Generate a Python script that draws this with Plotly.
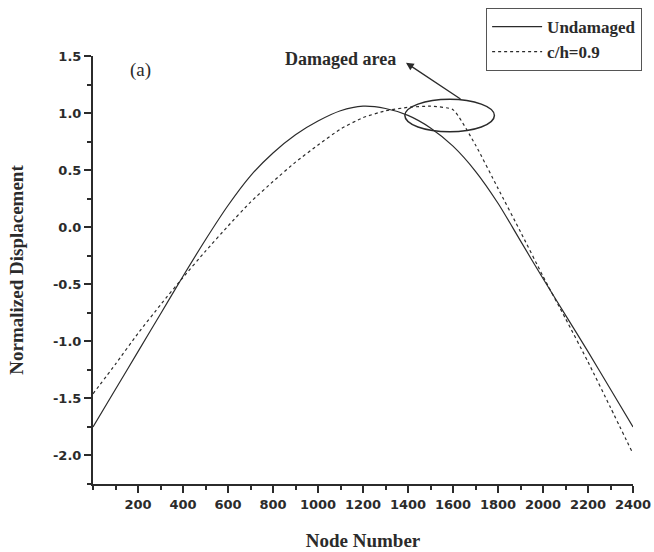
import plotly.graph_objects as go

# ---- data ----
node_number = [0, 100, 200, 300, 400, 500, 600, 700, 800, 900, 1000, 1100, 1200,
               1300, 1400, 1500, 1600, 1700, 1800, 1900, 2000, 2100, 2200, 2300, 2400]
undamaged = [-1.75, -1.42, -1.09, -0.76, -0.43, -0.11, 0.19, 0.45, 0.65, 0.81, 0.93, 1.02, 1.06,
             1.04, 0.98, 0.87, 0.71, 0.49, 0.21, -0.12, -0.45, -0.77, -1.09, -1.42, -1.75]
damaged_ch09 = [-1.46, -1.20, -0.93, -0.68, -0.44, -0.21, 0.01, 0.22, 0.40, 0.57, 0.72, 0.86, 0.96,
                1.02, 1.05, 1.06, 1.03, 0.72, 0.34, -0.04, -0.43, -0.80, -1.18, -1.58, -1.985]
series_names = ["Undamaged", "c/h=0.9"]
x_ticks = [200, 400, 600, 800, 1000, 1200, 1400, 1600, 1800, 2000, 2200, 2400]
y_ticks = [-2.0, -1.5, -1.0, -0.5, 0.0, 0.5, 1.0, 1.5]
y_tick_text = ["-2.0", "-1.5", "-1.0", "-0.5", "0.0", "0.5", "1.0", "1.5"]

SERIF = "Liberation Serif, Times New Roman, serif"
SANS = "DejaVu Sans, Arial, sans-serif"
INK = "#2b2b2b"

fig = go.Figure()
fig.add_trace(go.Scatter(x=node_number, y=undamaged, name=series_names[0], mode="lines",
                         line=dict(color=INK, width=1.2, shape="spline", smoothing=0.8)))
fig.add_trace(go.Scatter(x=node_number, y=damaged_ch09, name=series_names[1], mode="lines",
                         line=dict(color=INK, width=1.2, dash="3px,3px", shape="spline", smoothing=0.5)))

# damaged-area ellipse
fig.add_shape(type="circle", xref="x", yref="y", x0=1386, x1=1784, y0=0.836, y1=1.12,
              line=dict(color=INK, width=1.5))

# arrow from ellipse toward the label
fig.add_annotation(x=1391, y=1.441, ax=1640, ay=1.114, xref="x", yref="y", axref="x", ayref="y",
                   text="", showarrow=True, arrowhead=2, arrowsize=1.2, arrowwidth=1.3, arrowcolor=INK)
fig.add_annotation(x=1102, y=1.474, xref="x", yref="y", text="Damaged area", showarrow=False,
                   font=dict(family=SERIF, size=18, color=INK, weight="bold"))
fig.add_annotation(x=210, y=1.375, xref="x", yref="y", text="(a)", showarrow=False,
                   font=dict(family=SERIF, size=19, color=INK))

fig.update_layout(
    width=654, height=552,
    margin=dict(l=93, r=21, t=56, b=68, autoexpand=False),
    paper_bgcolor="white", plot_bgcolor="white",
    showlegend=True,
    legend=dict(x=0.728, y=1.112, xanchor="left", yanchor="top",
                bordercolor="#555", borderwidth=1, bgcolor="white",
                font=dict(family=SERIF, size=17, color=INK, weight="bold"),
                tracegroupgap=0, itemwidth=50),
)
fig.update_xaxes(
    range=[0, 2400], tickvals=x_ticks, ticks="outside", ticklen=7, tickwidth=1.5, tickcolor=INK,
    showline=True, linecolor=INK, linewidth=2, showgrid=False, zeroline=False,
    tickfont=dict(family=SANS, size=13, color=INK, weight="bold"),
    minor=dict(dtick=100, tick0=0, ticks="outside", ticklen=4, tickwidth=1.5, tickcolor=INK, showgrid=False),
    title=dict(text="Node Number", standoff=23,
               font=dict(family=SERIF, size=19, color=INK, weight="bold")),
)
fig.update_yaxes(
    range=[-2.25, 1.5], tickvals=y_ticks, ticktext=y_tick_text, ticks="outside", ticklen=7, tickwidth=1.5,
    tickcolor=INK, showline=True, linecolor=INK, linewidth=2, showgrid=False, zeroline=False,
    tickfont=dict(family=SANS, size=13, color=INK, weight="bold"),
    minor=dict(dtick=0.25, tick0=0, ticks="outside", ticklen=4, tickwidth=1.5, tickcolor=INK, showgrid=False),
    title=dict(text="Normalized Displacement", standoff=24,
               font=dict(family=SERIF, size=19, color=INK, weight="bold")),
)

# remove the default page margin so the 654x552 figure fills the window exactly
fig.write_html("out.html", config={"displayModeBar": False},
               post_script="document.body.style.margin='0';"
                           "document.documentElement.style.overflow='hidden';")
